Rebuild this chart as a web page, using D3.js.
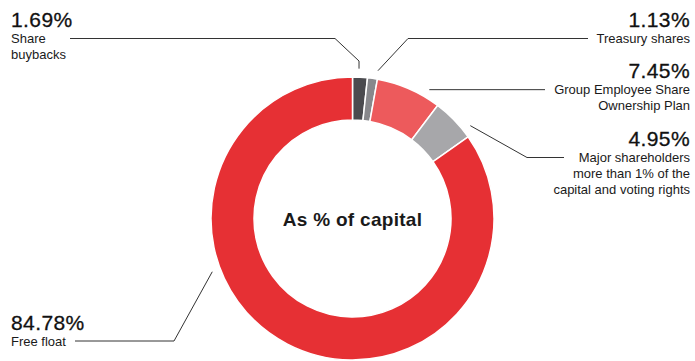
<!DOCTYPE html>
<html>
<head>
<meta charset="utf-8">
<script src="https://cdn.jsdelivr.net/npm/d3@7"></script>
<style>
  body { margin: 0; background: #fff; }
  svg { display: block; font-family: "Liberation Sans", Arial, Helvetica, sans-serif; }
</style>
</head>
<body>
<svg id="chart" width="695" height="361"></svg>
<script>
// shareholding as % of capital, clockwise from 12 o'clock
const categories = ['Share buybacks', 'Treasury shares', 'Group Employee Share Ownership Plan',
    'Major shareholders more than 1% of the capital and voting rights', 'Free float'];
const values = [1.69, 1.13, 7.45, 4.95, 84.78];
const valueLabels = ['1.69%', '1.13%', '7.45%', '4.95%', '84.78%'];
const labelLines = [
    ['Share', 'buybacks'],
    ['Treasury shares'],
    ['Group Employee Share', 'Ownership Plan'],
    ['Major shareholders', 'more than 1% of the', 'capital and voting rights'],
    ['Free float']
];
const colors = ['#4b4b4f', '#88888c', '#ed5a5c', '#a7a7aa', '#e63034'];

const svg = d3.select('#chart');
const cx = 352.5, cy = 218.5;
const outerR = 141.5, innerR = 98.5, leaderR = 150;

const pie = d3.pie().sort(null).value(d => d);
const arcs = pie(values);
const arc = d3.arc().innerRadius(innerR).outerRadius(outerR);

const g = svg.append('g').attr('transform', `translate(${cx},${cy})`);

// Donut slices
g.selectAll('path')
    .data(arcs)
    .enter()
    .append('path')
    .attr('d', arc)
    .attr('fill', (d, i) => colors[i])
    .attr('stroke', '#fff')
    .attr('stroke-width', 1.5);

// Center title
g.append('text')
    .attr('text-anchor', 'middle')
    .attr('y', 7)
    .attr('font-size', 19)
    .attr('font-weight', 'bold')
    .attr('letter-spacing', 0.3)
    .attr('fill', '#1a1a1a')
    .text('As % of capital');

// point on the leader circle, t = position inside the slice
function anchor(d, t) {
    const a = d.startAngle + (d.endAngle - d.startAngle) * t;
    return [cx + leaderR * Math.sin(a), cy - leaderR * Math.cos(a)];
}

// Leader layout: where the line leaves the slice and how it bends
const leaders = [
    { t: 0.41, side: 'left', x: 11, y: 27, path: s => [s, [s[0], 61], [335, 38.5], [70, 38.5]] },
    { t: 0.91, side: 'right', x: 690, y: 27, path: s => [s, [408, 38.5], [588, 38.5]] },
    { t: 0.77, side: 'right', x: 690, y: 78, path: s => [s, [545, s[1]]] },
    { t: 0.83, side: 'right', x: 690, y: 146, path: s => [s, [527, 157.5], [564, 157.5]] },
    { t: 0.637, side: 'left', x: 11, y: 330, path: s => [s, [174, 341], [75, 341]] }
];

const line = d3.line();

leaders.forEach((l, i) => {
    const s = anchor(arcs[i], l.t);
    svg.append('path')
        .attr('d', line(l.path(s)))
        .attr('fill', 'none')
        .attr('stroke', '#333')
        .attr('stroke-width', 1);

    const anchorPos = l.side === 'left' ? 'start' : 'end';
    svg.append('text')
        .attr('x', l.x)
        .attr('y', l.y)
        .attr('text-anchor', anchorPos)
        .attr('font-size', 21)
        .attr('letter-spacing', 0.4)
        .attr('fill', '#111')
        .attr('stroke', '#111')
        .attr('stroke-width', 0.3)
        .text(valueLabels[i]);

    const t = svg.append('text')
        .attr('x', l.x)
        .attr('y', l.y + 16)
        .attr('text-anchor', anchorPos)
        .attr('font-size', 13)
        .attr('fill', '#1a1a1a');
    labelLines[i].forEach((txt, j) => {
        t.append('tspan')
            .attr('x', l.x)
            .attr('dy', j === 0 ? 0 : 16)
            .text(txt);
    });
});
</script>
</body>
</html>
